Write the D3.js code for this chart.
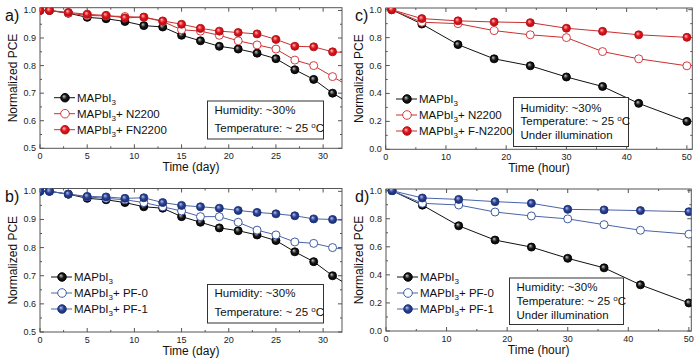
<!DOCTYPE html>
<html lang="en">
<head>
  <meta charset="UTF-8">
  <title>Normalized PCE stability</title>
  <script src="https://d3js.org/d3.v7.min.js"></script>
  <style>
    body { margin: 0; background: #fff; }
    svg { display: block; font-family: "Liberation Sans", Arial, sans-serif; }
    .tick-label { font-size: 9px; fill: #222; }
    .axis-title { font-size: 12px; fill: #111; }
    .legend text, .info text { font-size: 11.5px; fill: #111; }
    .panel-label { font-size: 16px; fill: #111; }
  </style>
</head>
<body>
  <svg id="chart" width="700" height="358"></svg>

  <script>
    // ============================
    // Data
    // ============================
    // day series (panels a, b) - last point lies beyond the axis and gets clipped
    const dayX = [0, 1, 3, 5, 7, 9, 11, 13, 15, 17, 19, 21, 23, 25, 27, 29, 31, 33];
    const dayRef = [1.0, 1.0, 0.99, 0.975, 0.97, 0.96, 0.945, 0.94, 0.91, 0.89, 0.87, 0.86, 0.845, 0.825, 0.785, 0.75, 0.70, 0.66];
    const dayN2200 = [1.0, 1.0, 0.99, 0.982, 0.98, 0.978, 0.975, 0.96, 0.93, 0.925, 0.91, 0.89, 0.875, 0.86, 0.82, 0.80, 0.76, 0.72];
    const dayFN2200 = [1.0, 1.0, 0.993, 0.986, 0.982, 0.973, 0.976, 0.962, 0.95, 0.935, 0.925, 0.92, 0.915, 0.895, 0.87, 0.868, 0.85, 0.846];
    const dayPF0 = [1.0, 1.0, 0.99, 0.98, 0.975, 0.97, 0.96, 0.945, 0.93, 0.91, 0.91, 0.89, 0.862, 0.845, 0.82, 0.815, 0.80, 0.79];
    const dayPF1 = [1.0, 1.0, 0.99, 0.982, 0.98, 0.975, 0.977, 0.96, 0.95, 0.945, 0.94, 0.932, 0.925, 0.92, 0.913, 0.902, 0.90, 0.894];

    // hour series (panels c, d)
    const hourX = [1, 6, 12, 18, 24, 30, 36, 42, 50];
    const hourRef = [1.0, 0.897, 0.75, 0.648, 0.598, 0.518, 0.45, 0.329, 0.20];
    const hourN2200 = [1.0, 0.91, 0.90, 0.85, 0.82, 0.80, 0.70, 0.648, 0.598];
    const hourFN2200 = [1.0, 0.936, 0.92, 0.912, 0.907, 0.867, 0.845, 0.82, 0.802];
    const hourPF0 = [1.0, 0.91, 0.898, 0.848, 0.82, 0.799, 0.758, 0.718, 0.69];
    const hourPF1 = [1.0, 0.948, 0.938, 0.922, 0.91, 0.867, 0.863, 0.858, 0.85];

    const dayTicks = [0, 5, 10, 15, 20, 25, 30];
    const hourTicks = [0, 10, 20, 30, 40, 50];
    const dayYTicks = [0.5, 0.6, 0.7, 0.8, 0.9, 1.0];
    const hourYTicks = [0.0, 0.2, 0.4, 0.6, 0.8, 1.0];

    const svg = d3.select("#chart");
    const defs = svg.append("defs");

    // sphere-like gradients for filled markers
    function sphere(id, hi, mid, lo) {
      const g = defs.append("radialGradient").attr("id", id)
        .attr("cx", "0.5").attr("cy", "0.5").attr("r", "0.55")
        .attr("fx", "0.35").attr("fy", "0.32");
      g.append("stop").attr("offset", "0").attr("stop-color", hi);
      g.append("stop").attr("offset", "0.5").attr("stop-color", mid);
      g.append("stop").attr("offset", "1").attr("stop-color", lo);
    }
    sphere("gBlack", "#c8c8c8", "#1a1a1a", "#000");
    sphere("gRed", "#ffc4c4", "#e3151d", "#a80a0e");
    sphere("gBlue", "#b7c3ee", "#2c4496", "#15255f");

    const styles = {
      ref:   { line: "#111", stroke: "#000", fill: "url(#gBlack)" },
      redO:  { line: "#c9302f", stroke: "#d0262a", fill: "#fff" },
      redF:  { line: "#c9302f", stroke: "#b5141a", fill: "url(#gRed)" },
      blueO: { line: "#4a64a8", stroke: "#2d4a9a", fill: "#fff" },
      blueF: { line: "#4a64a8", stroke: "#1f3480", fill: "url(#gBlue)" }
    };

    function legendText(sel, suffix) {
      sel.append("tspan").text("MAPbI");
      sel.append("tspan").attr("dy", 3).style("font-size", "8px").text("3");
      if (suffix) sel.append("tspan").attr("dy", -3).text(suffix);
    }

    function drawPanel(p) {
      const x = d3.scaleLinear().domain(p.xDomain).range([p.left, p.right]);
      const y = d3.scaleLinear().domain(p.yDomain).range([p.bottom, p.top]);
      const g = svg.append("g");

      // clip so lines end at the frame
      defs.append("clipPath").attr("id", "clip" + p.id)
        .append("rect")
        .attr("x", p.left).attr("y", p.top)
        .attr("width", p.right - p.left).attr("height", p.bottom - p.top);

      // frame
      g.append("rect")
        .attr("x", p.left).attr("y", p.top)
        .attr("width", p.right - p.left).attr("height", p.bottom - p.top)
        .attr("fill", "none").attr("stroke", "#555").attr("stroke-width", 1);

      // ticks (inward, mirrored)
      const xStep = p.xTicks[1] - p.xTicks[0];
      const yStep = p.yTicks[1] - p.yTicks[0];
      const xMinor = d3.range(p.xTicks[0] + xStep / 2, p.xDomain[1], xStep);
      const yMinor = p.yTicks.slice(0, -1).map(v => v + yStep / 2);
      const tickG = g.append("g").attr("stroke", "#555").attr("stroke-width", 1);
      [[p.xTicks, 4], [xMinor, 2]].forEach(([vals, len]) => {
        vals.forEach(v => {
          tickG.append("line").attr("x1", x(v)).attr("x2", x(v)).attr("y1", p.bottom).attr("y2", p.bottom - len);
          tickG.append("line").attr("x1", x(v)).attr("x2", x(v)).attr("y1", p.top).attr("y2", p.top + len);
        });
      });
      [[p.yTicks, 4], [yMinor, 2]].forEach(([vals, len]) => {
        vals.forEach(v => {
          tickG.append("line").attr("y1", y(v)).attr("y2", y(v)).attr("x1", p.left).attr("x2", p.left + len);
          tickG.append("line").attr("y1", y(v)).attr("y2", y(v)).attr("x1", p.right).attr("x2", p.right - len);
        });
      });

      g.selectAll(".xl").data(p.xTicks).enter().append("text")
        .attr("class", "tick-label")
        .attr("x", d => x(d)).attr("y", p.bottom + 10.5)
        .attr("text-anchor", "middle").text(d => d);
      g.selectAll(".yl").data(p.yTicks).enter().append("text")
        .attr("class", "tick-label")
        .attr("x", p.left - 4).attr("y", d => y(d) + 3)
        .attr("text-anchor", "end").text(d => d3.format(".1f")(d));

      // axis titles
      g.append("text").attr("class", "axis-title")
        .attr("x", (p.left + p.right) / 2).attr("y", p.bottom + 23)
        .attr("text-anchor", "middle").text(p.xTitle);
      g.append("text").attr("class", "axis-title")
        .attr("transform", `translate(${p.left - 23},${(p.top + p.bottom) / 2}) rotate(-90)`)
        .attr("text-anchor", "middle").text("Normalized PCE");

      g.append("text").attr("class", "panel-label")
        .attr("x", p.labelX).attr("y", p.top + 13).text(p.label);

      // series
      const plot = g.append("g").attr("clip-path", `url(#clip${p.id})`);
      const line = d3.line().x(d => x(d[0])).y(d => y(d[1]));
      p.series.forEach(s => {
        const st = styles[s.style];
        const pts = p.xs.map((v, i) => [v, s.values[i]]);
        plot.append("path").datum(pts)
          .attr("d", line).attr("fill", "none")
          .attr("stroke", st.line).attr("stroke-width", 1);
      });
      p.series.forEach(s => {
        const st = styles[s.style];
        const pts = p.xs.map((v, i) => [v, s.values[i]]);
        plot.selectAll(null).data(pts).enter().append("circle")
          .attr("cx", d => x(d[0])).attr("cy", d => y(d[1])).attr("r", 4)
          .attr("fill", st.fill).attr("stroke", st.stroke).attr("stroke-width", 0.9);
      });

      // legend
      const lg = g.append("g").attr("class", "legend");
      p.series.forEach((s, i) => {
        const st = styles[s.style];
        const cy = p.legend.y + i * 16;
        lg.append("line").attr("x1", p.legend.x).attr("x2", p.legend.x + 21)
          .attr("y1", cy).attr("y2", cy).attr("stroke", st.line).attr("stroke-width", 1);
        lg.append("circle").attr("cx", p.legend.x + 11).attr("cy", cy).attr("r", 4.3)
          .attr("fill", st.fill).attr("stroke", st.stroke).attr("stroke-width", 0.9);
        const t = lg.append("text").attr("x", p.legend.x + 23).attr("y", cy + 4);
        legendText(t, s.suffix);
      });

      // info box
      const ib = g.append("g").attr("class", "info");
      ib.append("rect")
        .attr("x", p.info.x).attr("y", p.info.y)
        .attr("width", p.info.w).attr("height", p.info.h)
        .attr("fill", "#fff").attr("stroke", "#333").attr("stroke-width", 1);
      p.info.lines.forEach((ln, i) => {
        const t = ib.append("text").attr("x", p.info.x + 7).attr("y", p.info.base + i * p.info.gap);
        if (ln === "temp") {
          t.append("tspan").text("Temperature: ~ 25 ");
          t.append("tspan").attr("dy", -4).style("font-size", "8px").text("o");
          t.append("tspan").attr("dy", 4).text("C");
        } else {
          t.text(ln);
        }
      });
    }

    drawPanel({
      id: "a", label: "a)", labelX: 5,
      left: 40, right: 342, top: 7.7, bottom: 148.3,
      xDomain: [0, 32], yDomain: [0.5, 1.01],
      xTicks: dayTicks, yTicks: dayYTicks, xTitle: "Time (day)", xs: dayX,
      series: [
        { values: dayRef, style: "ref", suffix: null },
        { values: dayN2200, style: "redO", suffix: "+ N2200" },
        { values: dayFN2200, style: "redF", suffix: "+ FN2200" }
      ],
      legend: { x: 54, y: 97.7 },
      info: { x: 207.5, y: 101, w: 116, h: 38, base: 113.5, gap: 18.5, lines: ["Humidity: ~30%", "temp"] }
    });

    drawPanel({
      id: "b", label: "b)", labelX: 5,
      left: 40, right: 342, top: 188.5, bottom: 332,
      xDomain: [0, 32], yDomain: [0.5, 1.01],
      xTicks: dayTicks, yTicks: dayYTicks, xTitle: "Time (day)", xs: dayX,
      series: [
        { values: dayRef, style: "ref", suffix: null },
        { values: dayPF0, style: "blueO", suffix: "+ PF-0" },
        { values: dayPF1, style: "blueF", suffix: "+ PF-1" }
      ],
      legend: { x: 51, y: 277 },
      info: { x: 207.5, y: 284.5, w: 116, h: 38.5, base: 296.5, gap: 19, lines: ["Humidity: ~30%", "temp"] }
    });

    drawPanel({
      id: "c", label: "c)", labelX: 355,
      left: 385.7, right: 692.3, top: 8, bottom: 149.3,
      xDomain: [0, 50.9], yDomain: [0, 1.012],
      xTicks: hourTicks, yTicks: hourYTicks, xTitle: "Time (hour)", xs: hourX,
      series: [
        { values: hourRef, style: "ref", suffix: null },
        { values: hourN2200, style: "redO", suffix: "+ N2200" },
        { values: hourFN2200, style: "redF", suffix: "+ F-N2200" }
      ],
      legend: { x: 396, y: 99 },
      info: { x: 513.5, y: 97.5, w: 115, h: 49, base: 111.5, gap: 13.8, lines: ["Humidity: ~30%", "temp", "Under illumination"] }
    });

    drawPanel({
      id: "d", label: "d)", labelX: 355,
      left: 386, right: 691.3, top: 189, bottom: 331,
      xDomain: [0, 50.4], yDomain: [0, 1.012],
      xTicks: hourTicks, yTicks: hourYTicks, xTitle: "Time (hour)", xs: hourX,
      series: [
        { values: hourRef, style: "ref", suffix: null },
        { values: hourPF0, style: "blueO", suffix: "+ PF-0" },
        { values: hourPF1, style: "blueF", suffix: "+ PF-1" }
      ],
      legend: { x: 397, y: 277 },
      info: { x: 509.5, y: 278, w: 114, h: 46.5, base: 290.5, gap: 14.2, lines: ["Humidity: ~30%", "temp", "Under illumination"] }
    });
  </script>
</body>
</html>
